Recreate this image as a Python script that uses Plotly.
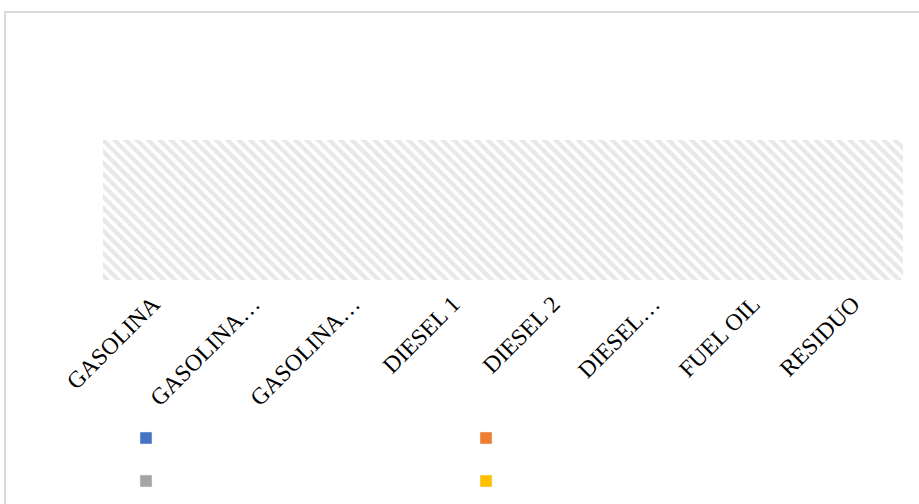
import plotly.graph_objects as go

categories = ["GASOLINA", "GASOLINA…", "GASOLINA…", "DIESEL 1", "DIESEL 2", "DIESEL…", "FUEL OIL", "RESIDUO"]
positions = list(range(len(categories)))
series_names = [" ", "  ", "   ", "    "]
series_colors = ["#4472C4", "#ED7D31", "#A5A5A5", "#FFC000"]
series_legend_rows = ["legend", "legend", "legend2", "legend2"]
series_values = [
    [None] * 8,
    [None] * 8,
    [None] * 8,
    [None] * 8,
]
background_level = [1] * 8

fig = go.Figure()

# hatched plot-area background
fig.add_trace(go.Bar(
    x=positions, y=background_level, width=1, showlegend=False, hoverinfo="skip",
    marker=dict(color="white", line=dict(width=0),
                pattern=dict(shape="\\", fgcolor="#d2d2d2", bgcolor="white", size=8, solidity=0.55)),
))

for name, color, vals, lg in zip(series_names, series_colors, series_values, series_legend_rows):
    fig.add_trace(go.Bar(x=positions, y=vals, name=name, marker=dict(color=color), legend=lg))

W, H = 919, 504
L, R, T, B = 103, 16, 140, 224
pw, ph = W - L - R, H - T - B

legend_common = dict(orientation="h", xref="container", yref="container", xanchor="left", yanchor="middle",
                     entrywidth=295, entrywidthmode="pixels", font=dict(size=12, color="white"),
                     bgcolor="rgba(0,0,0,0)")

fig.update_layout(
    width=W, height=H,
    margin=dict(l=L, r=R, t=T, b=B, autoexpand=False),
    paper_bgcolor="white", plot_bgcolor="white",
    barmode="overlay", bargap=0,
    font=dict(family="Liberation Serif", color="black"),
    xaxis=dict(range=[-0.5, 7.5], tickmode="array", tickvals=positions, ticktext=categories,
               tickangle=-45, tickfont=dict(size=23.5, family="Liberation Serif", color="black"),
               ticks="outside", ticklen=0, tickcolor="rgba(0,0,0,0)", showgrid=False, showline=False, zeroline=False),
    yaxis=dict(range=[0, 1], visible=False, showgrid=False, zeroline=False),
    showlegend=True,
    legend=dict(legend_common, x=126 / W, y=1 - 438 / H),
    legend2=dict(legend_common, x=126 / W, y=1 - 481 / H),
    shapes=[dict(type="rect", xref="paper", yref="paper",
                 x0=(5 - L) / pw, x1=(930 - L) / pw,
                 y0=(H - B - 515) / ph, y1=(H - B - 12) / ph,
                 line=dict(color="#d9d9d9", width=2), fillcolor="rgba(0,0,0,0)", layer="below")],
)

fig.write_html("out.html", post_script="document.body.style.margin='0';",
               config={"displayModeBar": False})
